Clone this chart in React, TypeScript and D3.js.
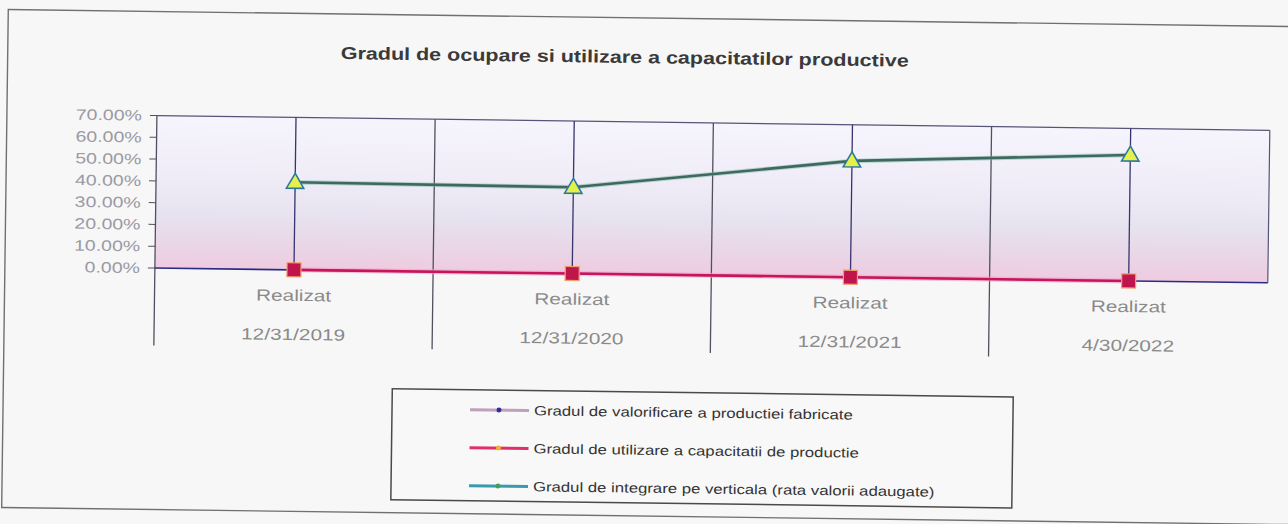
import React from "react";
import * as d3 from "d3";

const WIDTH = 1288;
const HEIGHT = 524;

// plot area (unrotated coordinates)
const PLOT_LEFT = 155;
const PLOT_RIGHT = 1268;
const PLOT_TOP = 122;
const PLOT_BOTTOM = 274.5;

// the scan is tilted a little clockwise and stretched sideways
const TILT = 0.76;
const STRETCH = 1.25;

const title = "Gradul de ocupare si utilizare a capacitatilor productive";
const periodLabels = ["Realizat", "Realizat", "Realizat", "Realizat"];
const dates = ["12/31/2019", "12/31/2020", "12/31/2021", "4/30/2022"];
const yTicks = [0, 0.1, 0.2, 0.3, 0.4, 0.5, 0.6, 0.7];

const valorificare = [0, 0, 0, 0];
const utilizare = [0, 0, 0, 0];
const integrare = [0.402, 0.396, 0.534, 0.578];

const seriesNames = [
  "Gradul de valorificare a productiei fabricate",
  "Gradul de utilizare a capacitatii de productie",
  "Gradul de integrare pe verticala (rata valorii adaugate)",
];
const legendLine = ["#c0a0b8", "#e0306a", "#3a9ab0"];
const legendMark = ["#3030a0", "#f0b030", "#40a060"];

const FONT = "'Liberation Sans', Arial, sans-serif";

type LabelProps = {
  x: number;
  y: number;
  anchor?: "start" | "middle" | "end";
  size: number;
  fill: string;
  bold?: boolean;
  sx?: number;
  children: React.ReactNode;
};

// text widened like the scanned original
const Label = ({ x, y, anchor = "start", size, fill, bold, sx = STRETCH, children }: LabelProps) => (
  <text
    transform={`translate(${x},${y}) scale(${sx},1)`}
    dy="0.35em"
    textAnchor={anchor}
    fontFamily={FONT}
    fontWeight={bold ? "bold" : "normal"}
    fontSize={size}
    fill={fill}
  >
    {children}
  </text>
);

const App = () => {
  const x = d3.scaleBand().domain(dates).range([PLOT_LEFT, PLOT_RIGHT]).padding(0);
  const y = d3.scaleLinear().domain([0, 0.7]).range([PLOT_BOTTOM, PLOT_TOP]);
  const cx = (d: string) => (x(d) as number) + x.bandwidth() / 2;
  const fmt = d3.format(".2%");

  const line = d3
    .line<number>()
    .x((_, i) => cx(dates[i]))
    .y((v) => y(v));

  const boundaries = dates.map((d) => x(d) as number);
  const tri = d3.symbol().type(d3.symbolTriangle).size(130)();

  return (
    <svg
      width={WIDTH}
      height={HEIGHT}
      style={{ position: "absolute", left: 0, top: 0, display: "block" }}
    >
      <defs>
        <linearGradient id="plotBg" x1="0" y1="0" x2="0" y2="1">
          <stop offset="0%" stopColor="#f6f4fd" />
          <stop offset="40%" stopColor="#efecf7" />
          <stop offset="65%" stopColor="#e7e2ef" />
          <stop offset="85%" stopColor="#e9d5e6" />
          <stop offset="100%" stopColor="#efcbe0" />
        </linearGradient>
      </defs>
      <rect width={WIDTH} height={HEIGHT} fill="#f7f7f7" />
      <g transform={`rotate(${TILT} 644 262)`}>
        {/* outer frame */}
        <rect x={5} y={18} width={1290} height={498} fill="none" stroke="#707070" strokeWidth={1.4} />
        <Label x={622} y={57} anchor="middle" size={17.5} fill="#3a3a3a" bold sx={1.23}>
          {title}
        </Label>

        {/* plot area */}
        <rect
          x={PLOT_LEFT}
          y={PLOT_TOP}
          width={PLOT_RIGHT - PLOT_LEFT}
          height={PLOT_BOTTOM - PLOT_TOP}
          fill="url(#plotBg)"
        />
        <line x1={PLOT_LEFT} x2={PLOT_RIGHT} y1={PLOT_TOP} y2={PLOT_TOP} stroke="#55557a" strokeWidth={1.2} />
        <line x1={PLOT_RIGHT} x2={PLOT_RIGHT} y1={PLOT_TOP} y2={PLOT_BOTTOM} stroke="#55557a" strokeWidth={1.2} />

        {/* category gridlines */}
        {dates.map((d) => (
          <line
            key={"g" + d}
            x1={cx(d)}
            x2={cx(d)}
            y1={PLOT_TOP}
            y2={PLOT_BOTTOM}
            stroke="#35356e"
            strokeWidth={1.3}
          />
        ))}

        {/* multi-level category separators */}
        {boundaries.map((bx, i) => (
          <line key={"b" + i} x1={bx} x2={bx} y1={PLOT_TOP} y2={352} stroke="#505060" strokeWidth={1.3} />
        ))}

        {/* y axis */}
        {yTicks.map((t) => (
          <g key={"y" + t}>
            <line x1={PLOT_LEFT - 7} x2={PLOT_LEFT} y1={y(t)} y2={y(t)} stroke="#505060" />
            <Label x={PLOT_LEFT - 15} y={y(t)} anchor="end" size={15} fill="#9a9aa4" sx={1.3}>
              {fmt(t)}
            </Label>
          </g>
        ))}

        {/* x axis */}
        <line x1={PLOT_LEFT} x2={PLOT_RIGHT} y1={PLOT_BOTTOM} y2={PLOT_BOTTOM} stroke="#2a2a88" strokeWidth={1.6} />

        {dates.map((d, i) => (
          <g key={"c" + d}>
            <Label x={cx(d)} y={300} anchor="middle" size={16} fill="#8a8a8a" sx={1.3}>
              {periodLabels[i]}
            </Label>
            <Label x={cx(d)} y={339} anchor="middle" size={16} fill="#8a8a8a" sx={1.3}>
              {d}
            </Label>
          </g>
        ))}

        {/* series */}
        <path d={line(valorificare) || ""} fill="none" stroke="#b8a0b8" strokeWidth={2} />
        <path d={line(utilizare) || ""} fill="none" stroke="#f2a0c4" strokeWidth={5} opacity={0.6} />
        <path d={line(utilizare) || ""} fill="none" stroke="#c8145a" strokeWidth={2.6} />
        <path d={line(integrare) || ""} fill="none" stroke="#7fb8b0" strokeWidth={4.5} opacity={0.5} />
        <path d={line(integrare) || ""} fill="none" stroke="#3e6a5e" strokeWidth={2.6} />

        {utilizare.map((v, i) => (
          <rect
            key={"s" + i}
            x={cx(dates[i]) - 7}
            y={y(v) - 7}
            width={14}
            height={14}
            fill="#c0144c"
            stroke="#f0a070"
            strokeWidth={1.2}
          />
        ))}
        {integrare.map((v, i) => (
          <path
            key={"t" + i}
            d={tri || ""}
            transform={`translate(${cx(dates[i])},${y(v) + 1})`}
            fill="#e6f04c"
            stroke="#2a7aa0"
            strokeWidth={1.6}
          />
        ))}

        {/* legend */}
        <rect x={394} y={392} width={621} height={111} fill="#f8f8f8" stroke="#4a4a4a" strokeWidth={1.5} />
        {seriesNames.map((name, i) => {
          const ly = 412 + i * 38;
          return (
            <g key={"l" + i}>
              <line x1={472} x2={531} y1={ly} y2={ly} stroke={legendLine[i]} strokeWidth={3} />
              <circle cx={501} cy={ly} r={2.5} fill={legendMark[i]} />
              <Label x={536} y={ly} size={13.5} fill="#333333" sx={1.24}>
                {name}
              </Label>
            </g>
          );
        })}
      </g>
    </svg>
  );
};

export default App;
